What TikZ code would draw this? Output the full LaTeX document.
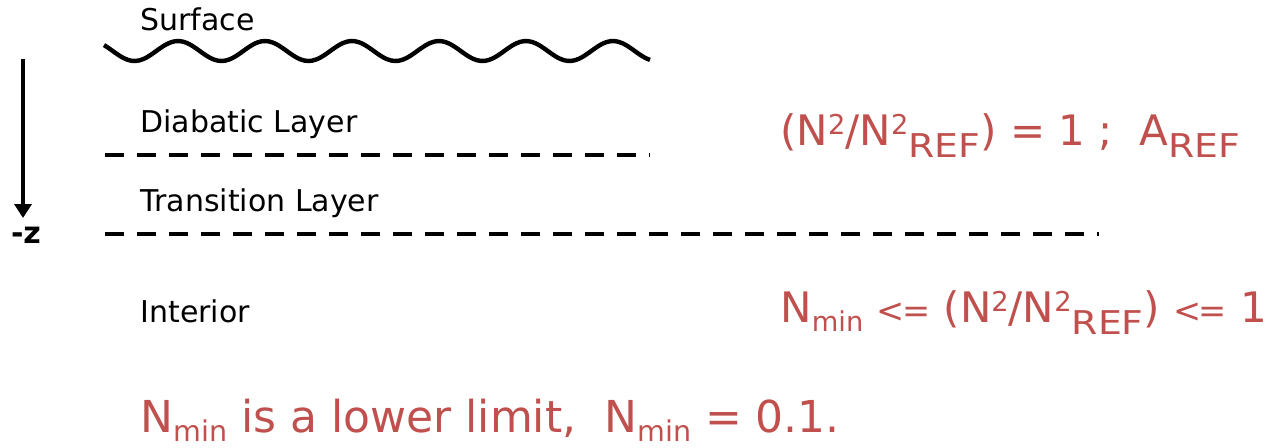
\documentclass[tikz,border=0pt]{standalone}
\usepackage{fontspec}
\setmainfont{DejaVu Sans}
\usetikzlibrary{arrows.meta}
\definecolor{eqred}{RGB}{192,80,77}
\newcommand{\hightext}[1]{\raisebox{0.26em}{\scalebox{0.65}{#1}}}
\newcommand{\refsub}{\raisebox{-0.3em}{\scalebox{0.9}[0.78]{REF}}}
\newcommand{\minsub}{\raisebox{-0.22em}{\scalebox{0.65}{min}}}
\newcommand{\lesseq}{\scalebox{0.8}{<\kern-0.08em=}}

\begin{document}
\begin{tikzpicture}[
    x=0.5pt, y=-0.5pt,
    >={Triangle[length=7pt,width=8.5pt]},
    layer/.style={
      anchor=base west,
      inner sep=0pt,
      font=\fontsize{15}{18}\selectfont
    },
    eqn/.style={
      anchor=base west,
      inner sep=0pt,
      text=eqred,
      font=\fontsize{21}{25}\selectfont
    },
    note/.style={
      anchor=base west,
      inner sep=0pt,
      text=eqred,
      font=\fontsize{22}{26}\selectfont
    },
    boundary/.style={dash pattern=on 9.5pt off 6.5pt, line width=2.2pt},
    surf/.style={line width=2.2pt},
    arrow/.style={->, line width=2pt}
  ]

  \useasboundingbox (0,0) rectangle (1269,447);

  % free surface
  \draw[surf] plot[domain=104:650, samples=140, smooth] (\x, {51 - 10*cos(4.138*(\x-178))});

  \coordinate (dia-l) at (105,155);
  \coordinate (dia-r) at (650,155);
  \coordinate (tra-l) at (105,234);
  \coordinate (tra-r) at (1099,234);
  \draw[boundary] (dia-l) -- (dia-r);
  \draw[boundary] (tra-l) -- (tra-r);

  % depth axis
  \coordinate (ztop) at (23,59);
  \coordinate (zbot) at (23,218);
  \draw[arrow] (ztop) -- (zbot);
  \node[layer, anchor=base, font=\fontsize{15}{18}\selectfont\bfseries] (zlbl) at (26,243) {-z};

  \node[layer] (surface) at (140,30) {Surface};
  \node[layer] (diabatic) at (140,132) {Diabatic Layer};
  \node[layer] (transition) at (140,211) {Transition Layer};
  \node[layer] (interior) at (140,322) {Interior};

  \node[eqn] (refeq) at (780,145) {(N\hightext{2}/N\hightext{2}\refsub) = 1 ;\ \ A\refsub};
  \node[eqn] (range) at (780,322) {N\minsub{} \lesseq{} (N\hightext{2}/N\hightext{2}\refsub) \lesseq{} 1};
  \node[note] (limit) at (140,432) {N\minsub{} is a lower limit,\ \ N\minsub{} = 0.1.};

\end{tikzpicture}
\end{document}
